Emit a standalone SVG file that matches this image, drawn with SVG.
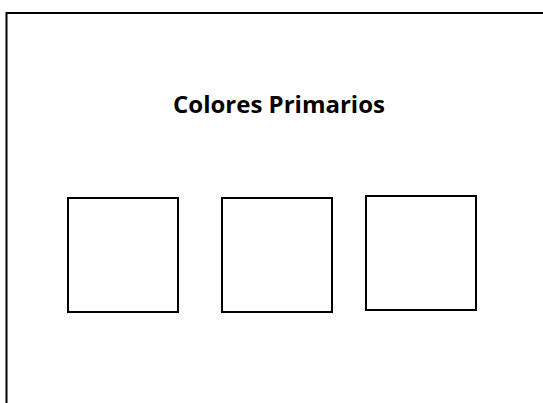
<svg xmlns="http://www.w3.org/2000/svg" width="543" height="403" viewBox="0 0 543 403">
<style>
.box{fill:#fff;stroke:#000;stroke-width:2}
.title{font-family:"Open Sans","Liberation Sans",sans-serif;font-weight:bold;font-size:24px;fill:#000}
</style>
<rect width="543" height="403" fill="#fff"/>
<g id="frame"><path d="M6.5 404 V13 H544" fill="none" stroke="#000" stroke-width="2"/></g>
<g id="title"><text class="title" x="279" y="113" text-anchor="middle" textLength="212" lengthAdjust="spacingAndGlyphs">Colores Primarios</text></g>
<g id="box1"><rect class="box" x="68" y="198" width="110" height="114"/></g>
<g id="box2"><rect class="box" x="222" y="198" width="110" height="114"/></g>
<g id="box3"><rect class="box" x="366" y="196" width="110" height="114"/></g>
<g id="connectors"></g>
</svg>
